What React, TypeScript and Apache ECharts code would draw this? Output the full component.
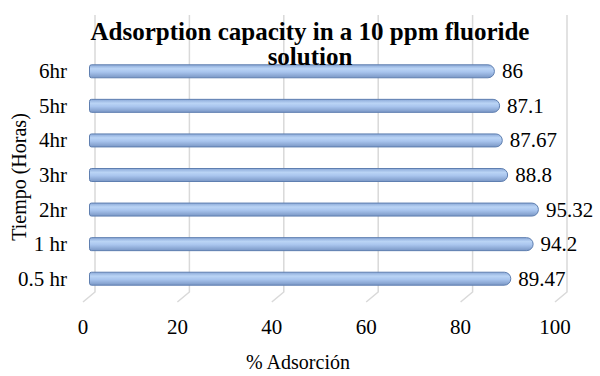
import React, { useEffect, useRef } from "react";
import * as echarts from "echarts";

const categories = ["0.5 hr", "1 hr", "2hr", "3hr", "4hr", "5hr", "6hr"];
const adsorption = [89.47, 94.2, 95.32, 88.8, 87.67, 87.1, 86];
const xTicks = [0, 20, 40, 60, 80, 100];
const titleText = "Adsorption capacity in a 10 ppm fluoride\nsolution";
const xAxisTitle = "% Adsorción";
const yAxisTitle = "Tiempo (Horas)";

const FONT = "'Liberation Serif', 'Times New Roman', serif";

export default function App() {
  const ref = useRef<HTMLDivElement>(null);
  useEffect(() => {
    if (!ref.current) return;
    const chart = echarts.init(ref.current, undefined, { renderer: "svg" });
    chart.setOption({
      animation: false,
      backgroundColor: "#ffffff",
      title: {
        text: titleText,
        left: 305,
        top: 14,
        textAlign: "center",
        textStyle: {
          fontFamily: FONT,
          fontWeight: "bold",
          fontSize: 25,
          lineHeight: 25,
          color: "#000",
        },
      },
      graphic: [
        {
          type: "text",
          x: 19,
          y: 177,
          rotation: Math.PI / 2,
          style: {
            text: yAxisTitle,
            font: `20px ${FONT}`,
            fill: "#000",
            align: "center",
            verticalAlign: "middle",
          },
        },
        {
          type: "text",
          x: 298,
          y: 362,
          style: {
            text: xAxisTitle,
            font: `20px ${FONT}`,
            fill: "#000",
            align: "center",
            verticalAlign: "middle",
          },
        },
      ],
      grid: {
        left: 89,
        right: 39,
        top: 54,
        bottom: 80,
        containLabel: false,
        outerBoundsMode: "none",
      },
      xAxis: {
        type: "value",
        min: 0,
        max: 100,
        interval: 20,
        axisLine: { show: false },
        axisTick: { show: false },
        splitLine: { show: false },
        axisLabel: {
          fontFamily: FONT,
          fontSize: 21,
          color: "#000",
          margin: 20,
          padding: [0, 12, 0, 0],
        },
      },
      yAxis: {
        type: "category",
        data: categories,
        axisLine: { show: false },
        axisTick: { show: false },
        axisLabel: {
          fontFamily: FONT,
          fontSize: 21,
          color: "#000",
          margin: 22,
        },
      },
      series: [
        {
          type: "custom",
          silent: true,
          clip: false,
          z: 1,
          data: xTicks.map((v) => [v]),
          encode: { x: 0 },
          renderItem: (params: any, api: any) => {
            const cs = params.coordSys;
            const x = api.coord([api.value(0), 0])[0];
            const bottom = cs.y + cs.height;
            return {
              type: "polyline",
              shape: {
                points: [
                  [x + 6, cs.y - 39],
                  [x + 6, bottom - 4],
                  [x - 6, bottom + 6],
                ],
              },
              style: { stroke: "#d9d9d9", lineWidth: 1.5, fill: "none" },
            };
          },
        },
        {
          type: "bar",
          data: adsorption,
          barWidth: 14,
          z: 3,
          itemStyle: {
            color: new echarts.graphic.LinearGradient(0, 0, 0, 1, [
              { offset: 0, color: "#8ba9d8" },
              { offset: 0.3, color: "#bad4f5" },
              { offset: 0.55, color: "#a9c5ee" },
              { offset: 1, color: "#7a97c5" },
            ]),
            borderColor: "#5f7fb0",
            borderWidth: 1,
            borderRadius: [2, 7, 7, 2],
          },
          label: {
            show: true,
            position: "right",
            distance: 7,
            fontFamily: FONT,
            fontSize: 21,
            color: "#000",
          },
        },
      ],
    });
    return () => chart.dispose();
  }, []);
  return (
    <div
      ref={ref}
      style={{ position: "fixed", left: 0, top: 0, width: 600, height: 376 }}
    />
  );
}
